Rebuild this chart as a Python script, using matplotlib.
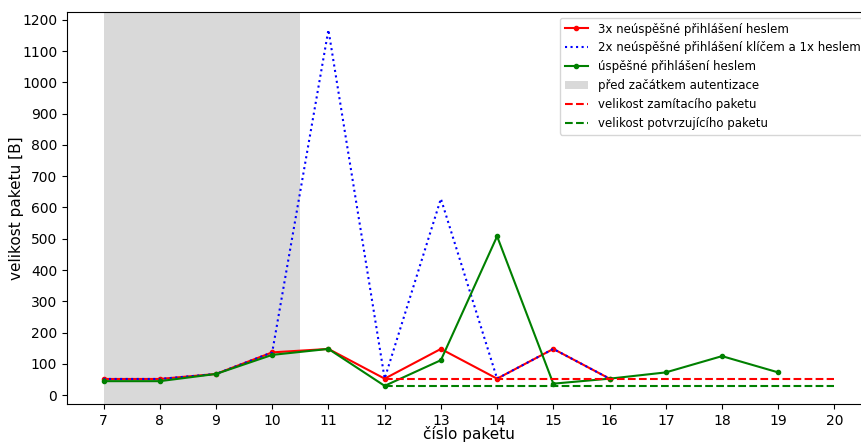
import matplotlib
matplotlib.use("Agg")
import matplotlib.pyplot as plt

x_red = [7, 8, 9, 10, 11, 12, 13, 14, 15, 16]
y_red = [52, 52, 68, 137, 148, 53, 148, 53, 148, 53]

x_blue = [7, 8, 9, 10, 11, 12, 13, 14, 15, 16]
y_blue = [52, 52, 68, 137, 1168, 53, 628, 53, 148, 53]

x_green = [7, 8, 9, 10, 11, 12, 13, 14, 15, 16, 17, 18, 19]
y_green = [45, 45, 68, 129, 148, 30, 112, 508, 37, 53, 73, 125, 73]

reject_size = 52
accept_size = 29
ref_x = [12, 20]
span = [7, 10.5]

labels = ["3x neúspěšné přihlášení heslem",
          "2x neúspěšné přihlášení klíčem a 1x heslem",
          "úspěšné přihlášení heslem",
          "před začátkem autentizace",
          "velikost zamítacího paketu",
          "velikost potvrzujícího paketu"]

fig = plt.figure(figsize=(8.61, 4.42), dpi=100)
ax = fig.add_axes([0.0778, 0.086, 0.9338, 0.887])

sp = ax.axvspan(span[0], span[1], color="#d9d9d9", lw=0)
l1, = ax.plot(x_red, y_red, color="red", marker=".", ms=6, lw=1.5)
l2, = ax.plot(x_blue, y_blue, color="blue", ls=":", lw=1.5)
l3, = ax.plot(x_green, y_green, color="green", marker=".", ms=6, lw=1.5)
l4, = ax.plot(ref_x, [reject_size, reject_size], color="red", ls="--", lw=1.5)
l5, = ax.plot(ref_x, [accept_size, accept_size], color="green", ls="--", lw=1.5)

ax.set_xticks(range(7, 21))
ax.set_yticks(range(0, 1201, 100))
ax.tick_params(labelsize=10)
ax.set_xlabel("číslo paketu", fontsize=11, labelpad=-1)
ax.set_ylabel("velikost paketu [B]", fontsize=11)
ax.yaxis.set_label_coords(-0.0535, 0.5)
ax.legend([l1, l2, l3, sp, l4, l5], labels, loc="upper right", fontsize=8.5)

fig.savefig("out.png", dpi=100)
